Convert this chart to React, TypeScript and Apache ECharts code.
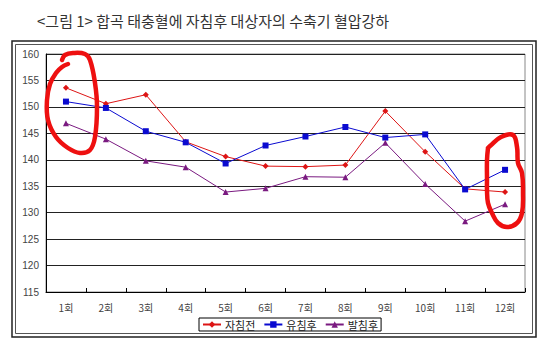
import React, { useEffect, useRef } from "react";
import * as echarts from "echarts";

const categories = ["1회", "2회", "3회", "4회", "5회", "6회", "7회", "8회", "9회", "10회", "11회", "12회"];
const beforeNeedle = [153.6, 150.6, 152.3, 143.4, 140.6, 138.8, 138.7, 139.0, 149.2, 141.5, 134.5, 133.9];
const retainNeedle = [151.0, 149.8, 145.4, 143.3, 139.3, 142.7, 144.4, 146.2, 144.2, 144.8, 134.4, 138.1];
const afterNeedle = [146.9, 143.9, 139.8, 138.6, 133.9, 134.6, 136.8, 136.7, 143.2, 135.4, 128.4, 131.6];
const seriesNames = ["자침전", "유침후", "발침후"];
const yTicks = { min: 115, max: 160, interval: 5 };

const annotation1 = [
  [68, 64], [62, 67], [56, 73], [50, 84], [47, 100], [48, 120], [56, 137], [68, 148], [80, 153],
  [90, 150], [95, 137], [97, 107], [95, 83], [90, 60], [85, 54], [73, 53], [65, 55], [62, 60],
];
const annotation2 = [
  [488, 148], [490, 146], [501, 137], [513, 135], [517, 147], [518, 163], [522, 173], [523, 193],
  [522, 213], [517, 223], [507, 227], [498, 223], [492, 213], [488, 203], [487, 190], [487, 180],
  [487, 160], [488, 148],
];

export default function App() {
  const ref = useRef<HTMLDivElement>(null);
  useEffect(() => {
    if (!ref.current) return;
    const chart = echarts.init(ref.current, null, { renderer: "svg" });
    const font = "'Noto Sans CJK KR', 'Noto Sans', sans-serif";
    const colors = ["#dd1515", "#0a0ad0", "#7a1a80"];
    const symbols = ["diamond", "rect", "triangle"];
    const sizes = [6, 6, 6];
    const datas = [beforeNeedle, retainNeedle, afterNeedle];
    chart.setOption({
      animation: false,
      title: {
        text: "<그림 1> 합곡 태충혈에 자침후 대상자의 수축기 혈압강하",
        left: 32,
        top: 8,
        textStyle: { fontFamily: font, fontSize: 15, fontWeight: "normal", color: "#333" },
      },
      grid: { left: 46, right: 26, top: 54, bottom: 60, show: true, borderColor: "#888", borderWidth: 1 },
      legend: {
        left: 199,
        top: 318,
        itemWidth: 18,
        itemHeight: 8,
        itemGap: 8,
        padding: [1, 3],
        borderColor: "#000",
        borderWidth: 1,
        textStyle: { fontFamily: font, fontSize: 11, color: "#222", padding: [0, 0, 0, -1] },
        data: seriesNames,
      },
      xAxis: {
        type: "category",
        data: categories,
        boundaryGap: true,
        axisLine: { lineStyle: { color: "#000", width: 1 } },
        axisTick: { show: true, inside: true, length: 4, lineStyle: { color: "#000" } },
        axisLabel: { fontFamily: font, fontSize: 10, color: "#444", margin: 10 },
      },
      yAxis: {
        type: "value",
        min: yTicks.min,
        max: yTicks.max,
        interval: yTicks.interval,
        axisLine: { show: true, lineStyle: { color: "#000", width: 1 } },
        axisTick: { show: false },
        axisLabel: { fontFamily: "'Liberation Sans', Arial, sans-serif", fontSize: 10, color: "#444", margin: 7 },
        splitLine: { lineStyle: { color: "#222", width: 1 } },
      },
      series: seriesNames.map((name, i) => ({
        name,
        type: "line",
        data: datas[i],
        symbol: symbols[i],
        symbolSize: sizes[i],
        lineStyle: { color: colors[i], width: 1 },
        itemStyle: { color: colors[i] },
      })),
      graphic: [
        { type: "rect", shape: { x: 12, y: 41, width: 524, height: 296 }, style: { fill: "none", stroke: "#222", lineWidth: 1.5 }, silent: true },
        { type: "rect", shape: { x: 15.5, y: 44.5, width: 517, height: 289 }, style: { fill: "none", stroke: "#555", lineWidth: 1 }, silent: true },
        { type: "polyline", shape: { points: annotation1, smooth: 0.4 }, style: { fill: "none", stroke: "#ee1010", lineWidth: 4.5, lineCap: "round", lineJoin: "round" }, z: 100, silent: true },
        { type: "polyline", shape: { points: annotation2, smooth: 0.4 }, style: { fill: "none", stroke: "#ee1010", lineWidth: 4.5, lineCap: "round", lineJoin: "round" }, z: 100, silent: true },
      ],
    });
    return () => chart.dispose();
  }, []);
  return <div ref={ref} style={{ width: 551, height: 352, position: "absolute", left: 0, top: 0 }} />;
}
